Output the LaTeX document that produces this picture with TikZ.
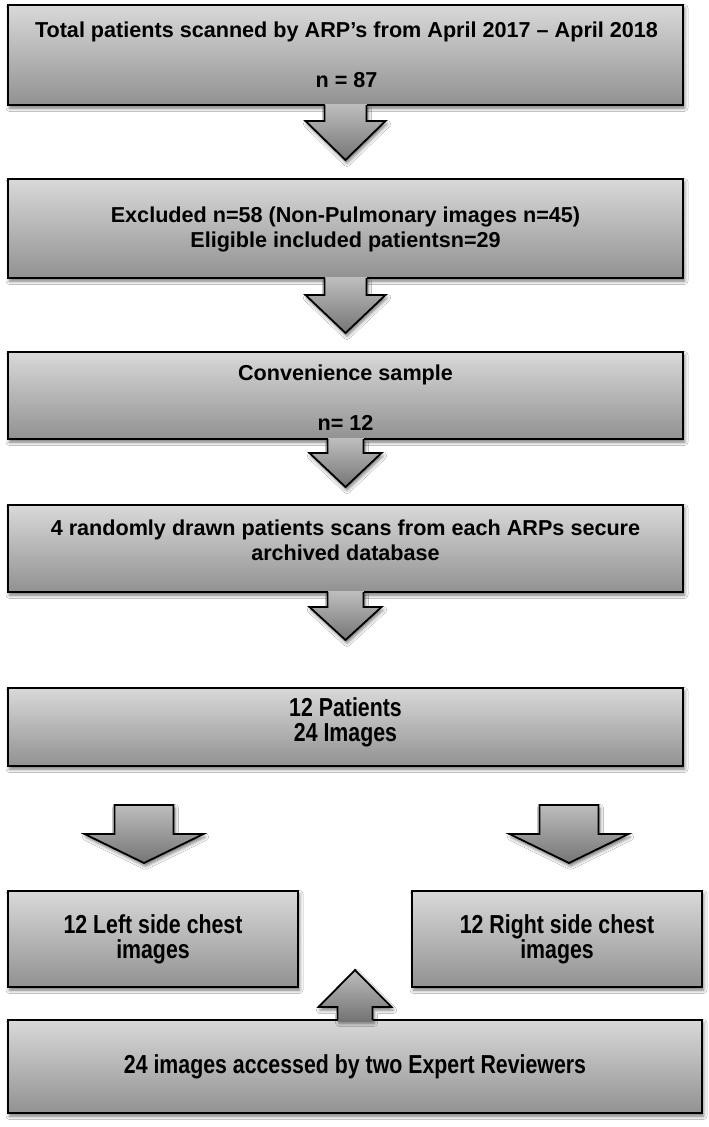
\documentclass[tikz,border=0pt]{standalone}
\usepackage{fontspec}
\setmainfont{Liberation Sans}
\newfontfamily\narrowfont{Liberation Sans}[FakeStretch=0.82]
\usetikzlibrary{calc,shadows.blur}
\definecolor{gtop}{gray}{0.85}
\definecolor{gbot}{gray}{0.57}
\definecolor{atop}{gray}{0.74}
\definecolor{abot}{gray}{0.46}
\tikzset{
 shad/.style={blur shadow={shadow xshift=1.5pt, shadow yshift=-3pt, shadow blur radius=3.5pt, shadow opacity=55}},
 box/.style={draw=black, line width=1.8pt, top color=gtop, bottom color=gbot, outer sep=0pt, inner sep=0pt, shad},
 arrfill/.style={top color=atop, bottom color=abot, shad},
 arrline/.style={draw=black, line width=1.8pt, line join=miter},
 toptext/.style={font=\fontsize{21.6}{25}\selectfont\bfseries, align=center, inner sep=0pt},
 lowtext/.style={font=\narrowfont\fontsize{26}{25}\selectfont\bfseries, align=center, inner sep=0pt},
}
% down block arrow hanging from a box: node, stem half width, head half width, stem length, head length
\newcommand\blockdown[5]{%
 \path[arrfill] ($(#1.south)+(-#2,0)$) -- ($(#1.south)+(-#2,#4)$) -- ($(#1.south)+(-#3,#4)$) -- ($(#1.south)+(0,#4+#5)$) -- ($(#1.south)+(#3,#4)$) -- ($(#1.south)+(#2,#4)$) -- ($(#1.south)+(#2,0)$) -- cycle;
 \fill[atop] ($(#1.south)+(-#2,-1.5)$) rectangle ($(#1.south)+(#2,0.5)$);
 \draw[arrline] ($(#1.south)+(-#2,0)$) -- ($(#1.south)+(-#2,#4)$) -- ($(#1.south)+(-#3,#4)$) -- ($(#1.south)+(0,#4+#5)$) -- ($(#1.south)+(#3,#4)$) -- ($(#1.south)+(#2,#4)$) -- ($(#1.south)+(#2,0)$);
}
\newcommand\blockup[5]{%
 \path[arrfill] ($(#1.north)+(-#2,0)$) -- ($(#1.north)+(-#2,-#4)$) -- ($(#1.north)+(-#3,-#4)$) -- ($(#1.north)+(0,-#4-#5)$) -- ($(#1.north)+(#3,-#4)$) -- ($(#1.north)+(#2,-#4)$) -- ($(#1.north)+(#2,0)$) -- cycle;
 \fill[abot] ($(#1.north)+(-#2,-0.5)$) rectangle ($(#1.north)+(#2,1.5)$);
 \draw[arrline] ($(#1.north)+(-#2,0)$) -- ($(#1.north)+(-#2,-#4)$) -- ($(#1.north)+(-#3,-#4)$) -- ($(#1.north)+(0,-#4-#5)$) -- ($(#1.north)+(#3,-#4)$) -- ($(#1.north)+(#2,-#4)$) -- ($(#1.north)+(#2,0)$);
}
% free standing down block arrow: coordinate of stem top centre
\newcommand\freedown[5]{%
 \path[arrfill, arrline] ($(#1)+(-#2,0)$) -- ($(#1)+(-#2,#4)$) -- ($(#1)+(-#3,#4)$) -- ($(#1)+(0,#4+#5)$) -- ($(#1)+(#3,#4)$) -- ($(#1)+(#2,#4)$) -- ($(#1)+(#2,0)$) -- cycle;
}
\begin{document}
\begin{tikzpicture}[x=1pt,y=-1pt]
\useasboundingbox (0,0) rectangle (709,1127);
\fill[white] (0,0) rectangle (709,1127);

% boxes
\node[box, minimum width=675pt, minimum height=100pt] (b1) at (345.5,55) {};
\node[box, minimum width=675pt, minimum height=99pt] (b2) at (345.5,228.5) {};
\node[box, minimum width=675pt, minimum height=87pt] (b3) at (345.5,395.5) {};
\node[box, minimum width=675pt, minimum height=87pt] (b4) at (345.5,548.5) {};
\node[box, minimum width=675pt, minimum height=78pt] (b5) at (345.5,727) {};
\node[box, minimum width=290pt, minimum height=96pt] (bL) at (153,939) {};
\node[box, minimum width=290pt, minimum height=96pt] (bR) at (557,939) {};
\node[box, minimum width=694pt, minimum height=93pt] (bB) at (355,1066.5) {};

% arrows
\blockdown{b1}{21}{40}{16}{39}
\blockdown{b2}{21}{40}{17}{38}
\blockdown{b3}{18}{36}{14}{34}
\blockdown{b4}{18}{36}{15}{33}
\coordinate (aL) at (144,805);
\coordinate (aR) at (569,805);
\freedown{aL}{29.5}{59.5}{29}{29}
\freedown{aR}{29.5}{59.5}{29}{29}
\blockup{bB}{17.5}{36.5}{13}{37}

% texts
\node[toptext] (t1) at ($(b1.center)+(1,0)$) {Total patients scanned by ARP’s from April 2017 – April 2018\\[25pt]n = 87};
\node[toptext] (t2) at ($(b2.center)+(0,1)$) {Excluded n=58 (Non-Pulmonary images n=45)\\Eligible included patientsn=29};
\node[toptext] (t3) at ($(b3.center)+(0,2)$) {Convenience sample\\[25pt]n= 12};
\node[toptext] (t4) at ($(b4.center)+(0,-8)$) {4 randomly drawn patients scans from each ARPs secure\\archived database};
\node[lowtext] (t5) at ($(b5.center)+(0,-5)$) {12 Patients\\24 Images};
\node[lowtext] (tL) at (bL.center) {12 Left side chest\\images};
\node[lowtext] (tR) at (bR.center) {12 Right side chest\\images};
\node[lowtext] (tB) at (bB.center) {24 images accessed by two Expert Reviewers};
\end{tikzpicture}
\end{document}
